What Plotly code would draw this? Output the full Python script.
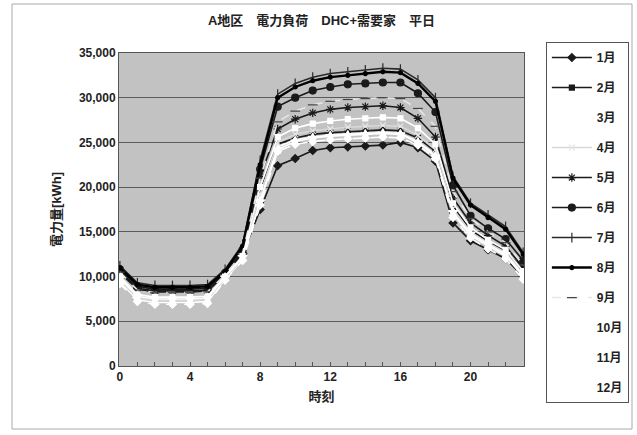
import plotly.graph_objects as go

hours = list(range(24))
months = ["1月", "2月", "3月", "4月", "5月", "6月", "7月", "8月", "9月", "10月", "11月", "12月"]

jan = [10600, 8600, 8300, 8300, 8300, 8400, 10200, 12500, 17500, 22400, 23200, 24100, 24400, 24500, 24600, 24700, 25000, 24400, 22900, 16000, 14000, 13000, 12000, 10000]
feb = [10400, 8600, 8300, 8300, 8300, 8400, 10300, 12800, 19800, 24800, 25500, 25900, 26100, 26200, 26300, 26400, 26300, 25500, 24000, 17800, 15200, 14000, 12900, 10800]
mar = [9400, 7400, 7100, 7100, 7100, 7200, 9700, 11900, 18600, 24500, 25300, 25600, 25800, 25900, 26000, 26100, 26000, 25100, 23600, 17000, 14600, 13400, 12300, 10000]
apr = [9600, 7600, 7300, 7300, 7300, 7400, 9800, 12000, 19200, 25000, 25900, 26300, 26500, 26700, 26800, 26900, 26800, 25800, 24200, 17600, 15000, 13700, 12600, 10300]
may = [10600, 8700, 8400, 8400, 8400, 8500, 10300, 12700, 21200, 26500, 27600, 28300, 28700, 28900, 29000, 29100, 28900, 27700, 25600, 18800, 16000, 14600, 13400, 11000]
jun = [10800, 8900, 8600, 8600, 8600, 8700, 10400, 13000, 22000, 29000, 30000, 30800, 31200, 31500, 31600, 31700, 31700, 30500, 28400, 20200, 16800, 15400, 14200, 11800]
jul = [11200, 9300, 9000, 9000, 9000, 9100, 10800, 13600, 23000, 30400, 31600, 32300, 32700, 32900, 33100, 33300, 33200, 32000, 30000, 21200, 18200, 16900, 15600, 12700]
aug = [11000, 9100, 8800, 8800, 8800, 8900, 10600, 13400, 22500, 30000, 31200, 31900, 32300, 32500, 32700, 32900, 32800, 31600, 29600, 21000, 18000, 16600, 15300, 12500]
sep = [10500, 8500, 8200, 8200, 8200, 8300, 10200, 12600, 21000, 27300, 28500, 29200, 29600, 29800, 29900, 30000, 29900, 28800, 26800, 19500, 16500, 15000, 13800, 11300]
oct_ = [10000, 8000, 7700, 7700, 7700, 7800, 10000, 12300, 20000, 25600, 26600, 27100, 27400, 27600, 27700, 27800, 27700, 26600, 24800, 18200, 15500, 14100, 13000, 10600]
nov = [9200, 7200, 6900, 6900, 6900, 7000, 9600, 11800, 18000, 24000, 24800, 25100, 25300, 25400, 25500, 25600, 25500, 24700, 23200, 16600, 14300, 13100, 12000, 9700]
dec = [9800, 7800, 7500, 7500, 7500, 7600, 9900, 12200, 18400, 24200, 25100, 25500, 25700, 25800, 25900, 26000, 25900, 25000, 23400, 17200, 14800, 13600, 12500, 10200]

series = [jan, feb, mar, apr, may, jun, jul, aug, sep, oct_, nov, dec]

styles = [
    dict(lc="#1a1a1a", lw=1.6, dash="solid", sym="diamond", ms=6, mc="#1a1a1a"),
    dict(lc="#1a1a1a", lw=1.6, dash="solid", sym="square", ms=5, mc="#1a1a1a"),
    dict(lc="#ffffff", lw=1.6, dash="solid", sym="triangle-up", ms=6, mc="#ffffff"),
    dict(lc="#d8d8d8", lw=1.6, dash="solid", sym="x-thin-open", ms=6, mc="#e8e8e8"),
    dict(lc="#1a1a1a", lw=1.6, dash="solid", sym="asterisk-open", ms=7, mc="#1a1a1a"),
    dict(lc="#1a1a1a", lw=1.6, dash="solid", sym="circle", ms=7, mc="#1a1a1a"),
    dict(lc="#2a2a2a", lw=1.6, dash="solid", sym="line-ns-open", ms=7, mc="#2a2a2a"),
    dict(lc="#000000", lw=2.4, dash="solid", sym="circle", ms=4, mc="#000000"),
    dict(lc="#e6e6e6", lw=1.6, dash="dash", sym="line-ew-open", ms=7, mc="#444444"),
    dict(lc="#ffffff", lw=1.6, dash="solid", sym="square", ms=5, mc="#ffffff"),
    dict(lc="#ffffff", lw=1.6, dash="dash", sym="diamond", ms=6, mc="#ffffff"),
    dict(lc="#ffffff", lw=1.6, dash="solid", sym="star", ms=7, mc="#ffffff"),
]

font_family = "Liberation Sans, Noto Sans CJK JP, sans-serif"

fig = go.Figure()
for i, (name, ys, st) in enumerate(zip(months, series, styles)):
    fig.add_trace(go.Scatter(
        x=hours, y=ys, name=f"<b>{name}</b>", mode="lines+markers",
        legendgroup=f"g{i}",
        line=dict(color=st["lc"], width=st["lw"], dash=st["dash"]),
        marker=dict(symbol=st["sym"], size=st["ms"], color=st["mc"],
                    line=dict(color=st["mc"], width=1.2)),
    ))

tickvals = hours
ticktext = [f"<b>{h}</b>" if h % 4 == 0 else "" for h in hours]

fig.update_layout(
    width=637, height=435,
    margin=dict(l=119, r=113, t=53, b=69, autoexpand=False),
    paper_bgcolor="#ffffff",
    plot_bgcolor="#c2c2c2",
    font=dict(family=font_family, size=12, color="#222222"),
    title=dict(text="<b>A地区　電力負荷　DHC+需要家　平日</b>", x=(119 + 524) / 2 / 637, xanchor="center",
               y=1 - 20 / 435, yanchor="middle", font=dict(size=13, color="#222222")),
    showlegend=True,
    legend=dict(x=1.054, y=1.035, xanchor="left", yanchor="top",
                bordercolor="#555555", borderwidth=1, bgcolor="#ffffff",
                traceorder="grouped", tracegroupgap=11, maxheight=600,
                font=dict(size=12, color="#222222", family=font_family),
                itemwidth=40),
    xaxis=dict(range=[-0.05, 23.05], tickmode="array", tickvals=tickvals, ticktext=ticktext,
               ticks="inside", ticklen=4, tickcolor="#555555", showgrid=False,
               showline=True, linecolor="#555555", linewidth=1, mirror=True,
               zeroline=False,
               tickfont=dict(size=12, color="#222222"),
               title=dict(text="<b>時刻</b>", font=dict(size=13, color="#222222"), standoff=8)),
    yaxis=dict(range=[0, 35000], dtick=5000, tickformat=",", showgrid=True,
               gridcolor="#5a5a5a", gridwidth=1,
               showline=True, linecolor="#555555", linewidth=1, mirror=True,
               zeroline=False, ticks="",
               tickprefix="<b>", ticksuffix="</b>",
               tickfont=dict(size=12, color="#222222"),
               title=dict(text="<b>電力量[kWh]</b>", font=dict(size=13, color="#222222"), standoff=14)),
    shapes=[dict(type="rect", xref="paper", yref="paper",
                 x0=(12 - 119) / 405, x1=(632 - 119) / 405,
                 y0=(366 - 429) / 313, y1=(366 - 4) / 313,
                 line=dict(color="#aaaaaa", width=1), fillcolor="rgba(0,0,0,0)", layer="below")],
)

fig.write_html("out.html")
